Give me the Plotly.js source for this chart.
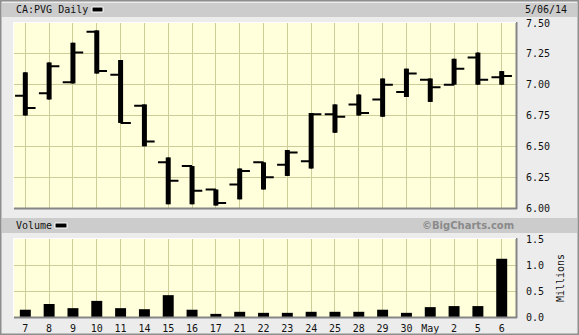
<!DOCTYPE html>
<html>
<head>
<meta charset="utf-8">
<script src="https://cdn.plot.ly/plotly-3.0.1.min.js"></script>
<style>html,body{margin:0;padding:0;background:#ececec;}#chart{width:579px;height:335px;}</style>
</head>
<body>
<div id="chart"></div>
<script>
const dates = ['7','8','9','10','11','14','15','16','17','21','22','23','24','25','28','29','30','May','2','5','6'];
const openP  = [6.91,6.93,7.02,7.43,7.08,6.83,6.37,6.34,6.15,6.19,6.37,6.35,6.38,6.76,6.84,6.88,6.94,7.04,7.00,7.22,7.06];
const highP  = [7.10,7.18,7.34,7.44,7.20,6.84,6.41,6.34,6.15,6.32,6.37,6.47,6.77,6.84,6.92,7.05,7.13,7.05,7.21,7.26,7.11];
const lowP   = [6.75,6.88,7.01,7.09,6.69,6.50,6.03,6.03,6.02,6.07,6.15,6.26,6.32,6.61,6.75,6.74,6.90,6.86,7.00,7.00,7.00];
const closeP = [6.81,7.15,7.26,7.11,6.69,6.54,6.22,6.14,6.04,6.30,6.25,6.45,6.76,6.74,6.77,7.00,7.09,6.98,7.13,7.04,7.07];
const volume = [0.14,0.25,0.17,0.31,0.17,0.15,0.42,0.14,0.06,0.10,0.08,0.08,0.10,0.10,0.10,0.14,0.08,0.19,0.21,0.21,1.12];

const W = 579, H = 335;
const idx = dates.map((d, i) => i);
const px = v => v / W;
const py = v => 1 - v / H;
const mono = 'DejaVu Sans Mono, monospace';
const gridC = '#cdcd98';

const traces = [
  { type: 'ohlc', x: idx, open: openP, high: highP, low: lowP, close: closeP,
    xaxis: 'x', yaxis: 'y', tickwidth: 0, hoverinfo: 'skip',
    increasing: { line: { color: '#000', width: 5 } },
    decreasing: { line: { color: '#000', width: 5 } }, showlegend: false },
  { type: 'ohlc', x: idx, open: openP, high: highP, low: lowP, close: closeP,
    xaxis: 'x', yaxis: 'y', tickwidth: 0.43, hoverinfo: 'skip',
    increasing: { line: { color: '#000', width: 2 } },
    decreasing: { line: { color: '#000', width: 2 } }, showlegend: false },
  { type: 'bar', x: idx, y: volume, xaxis: 'x2', yaxis: 'y2', width: 0.46,
    marker: { color: '#000', line: { width: 0 } }, showlegend: false, hoverinfo: 'skip' }
];

const xr = [-0.475, 20.6];
const layout = {
  width: W, height: H,
  margin: { l: 0, r: 0, t: 0, b: 0 },
  paper_bgcolor: '#ececec',
  plot_bgcolor: '#ffffdc',
  showlegend: false,
  font: { family: mono, size: 10, color: '#111' },
  xaxis: {
    domain: [px(14), px(516)], anchor: 'y', range: xr, fixedrange: true,
    tickvals: idx, showticklabels: false, ticks: '',
    showgrid: true, gridcolor: gridC, gridwidth: 1, zeroline: false,
    rangeslider: { visible: false }, showline: false
  },
  yaxis: {
    domain: [py(208), py(23)], anchor: 'x', range: [6, 7.5], side: 'right',
    dtick: 0.25, tick0: 6, tickformat: '.2f', ticks: 'outside', ticklen: 7,
    tickcolor: 'rgba(0,0,0,0)', showgrid: true, gridcolor: gridC, gridwidth: 1,
    zeroline: false, showline: false, fixedrange: true,
    tickfont: { family: mono, size: 10, color: '#111' }
  },
  xaxis2: {
    domain: [px(14), px(516)], anchor: 'y2', range: xr, fixedrange: true,
    tickvals: idx, ticktext: dates, ticks: 'outside', ticklen: 2,
    tickcolor: 'rgba(0,0,0,0)',
    showgrid: true, gridcolor: gridC, gridwidth: 1, zeroline: false, showline: false,
    tickfont: { family: mono, size: 10, color: '#111' }
  },
  yaxis2: {
    domain: [py(317), py(239)], anchor: 'x2', range: [0, 1.5], side: 'right',
    dtick: 0.5, tickformat: '.1f', ticks: 'outside', ticklen: 7,
    tickcolor: 'rgba(0,0,0,0)', showgrid: true, gridcolor: gridC, gridwidth: 1,
    zeroline: false, showline: false, fixedrange: true,
    tickfont: { family: mono, size: 10, color: '#111' },
    title: { text: 'Millions', font: { family: mono, size: 10, color: '#111' }, standoff: 13 }
  },
  shapes: [
    { type: 'rect', xref: 'paper', yref: 'paper', x0: px(2), x1: px(577), y0: py(17), y1: py(3),
      fillcolor: '#cccccc', line: { width: 0 }, layer: 'below' },
    { type: 'rect', xref: 'paper', yref: 'paper', x0: px(2), x1: px(577), y0: py(233), y1: py(218),
      fillcolor: '#cccccc', line: { width: 0 }, layer: 'below' },
    { type: 'rect', xref: 'paper', yref: 'paper', x0: px(92), x1: px(103), y0: py(12), y1: py(7),
      fillcolor: '#000', line: { color: '#fff', width: 1 } },
    { type: 'rect', xref: 'paper', yref: 'paper', x0: px(55), x1: px(67), y0: py(228), y1: py(223),
      fillcolor: '#000', line: { color: '#fff', width: 1 } },
    { type: 'line', xref: 'paper', yref: 'paper', x0: px(14), x1: px(517), y0: py(208.5), y1: py(208.5), line: { color: '#858585', width: 2 } },
    { type: 'line', xref: 'paper', yref: 'paper', x0: px(516.5), x1: px(516.5), y0: py(209), y1: py(22), line: { color: '#858585', width: 2 } },
    { type: 'line', xref: 'paper', yref: 'paper', x0: px(13.5), x1: px(516), y0: py(22.5), y1: py(22.5), line: { color: '#ffffff', width: 1 } },
    { type: 'line', xref: 'paper', yref: 'paper', x0: px(13.5), x1: px(13.5), y0: py(208), y1: py(22.5), line: { color: '#ffffff', width: 1 } },
    { type: 'line', xref: 'paper', yref: 'paper', x0: px(14), x1: px(517), y0: py(317.5), y1: py(317.5), line: { color: '#858585', width: 2 } },
    { type: 'line', xref: 'paper', yref: 'paper', x0: px(516.5), x1: px(516.5), y0: py(318), y1: py(238), line: { color: '#858585', width: 2 } },
    { type: 'line', xref: 'paper', yref: 'paper', x0: px(13.5), x1: px(516), y0: py(238.5), y1: py(238.5), line: { color: '#ffffff', width: 1 } },
    { type: 'line', xref: 'paper', yref: 'paper', x0: px(13.5), x1: px(13.5), y0: py(317), y1: py(238.5), line: { color: '#ffffff', width: 1 } },
    { type: 'rect', xref: 'paper', yref: 'paper', x0: 0, x1: 1, y0: 0, y1: 1,
      line: { color: '#8e8e8e', width: 3 }, fillcolor: 'rgba(0,0,0,0)' }
  ],
  annotations: [
    { xref: 'paper', yref: 'paper', x: px(14), y: py(10), xanchor: 'left', yanchor: 'middle',
      text: 'CA:PVG Daily', showarrow: false, font: { family: mono, size: 10, color: '#111' } },
    { xref: 'paper', yref: 'paper', x: px(523), y: py(10), xanchor: 'left', yanchor: 'middle',
      text: '5/06/14', showarrow: false, font: { family: mono, size: 10, color: '#111' } },
    { xref: 'paper', yref: 'paper', x: px(14), y: py(225.5), xanchor: 'left', yanchor: 'middle',
      text: 'Volume', showarrow: false, font: { family: mono, size: 10, color: '#111' } },
    { xref: 'paper', yref: 'paper', x: px(516), y: py(225.5), xanchor: 'right', yanchor: 'middle',
      text: '©BigCharts.com', showarrow: false,
      font: { family: 'DejaVu Sans, sans-serif', size: 10, color: '#8a8a8a', weight: 'bold' } }
  ]
};

Plotly.newPlot('chart', traces, layout, { staticPlot: true, displayModeBar: false });
</script>
</body>
</html>
